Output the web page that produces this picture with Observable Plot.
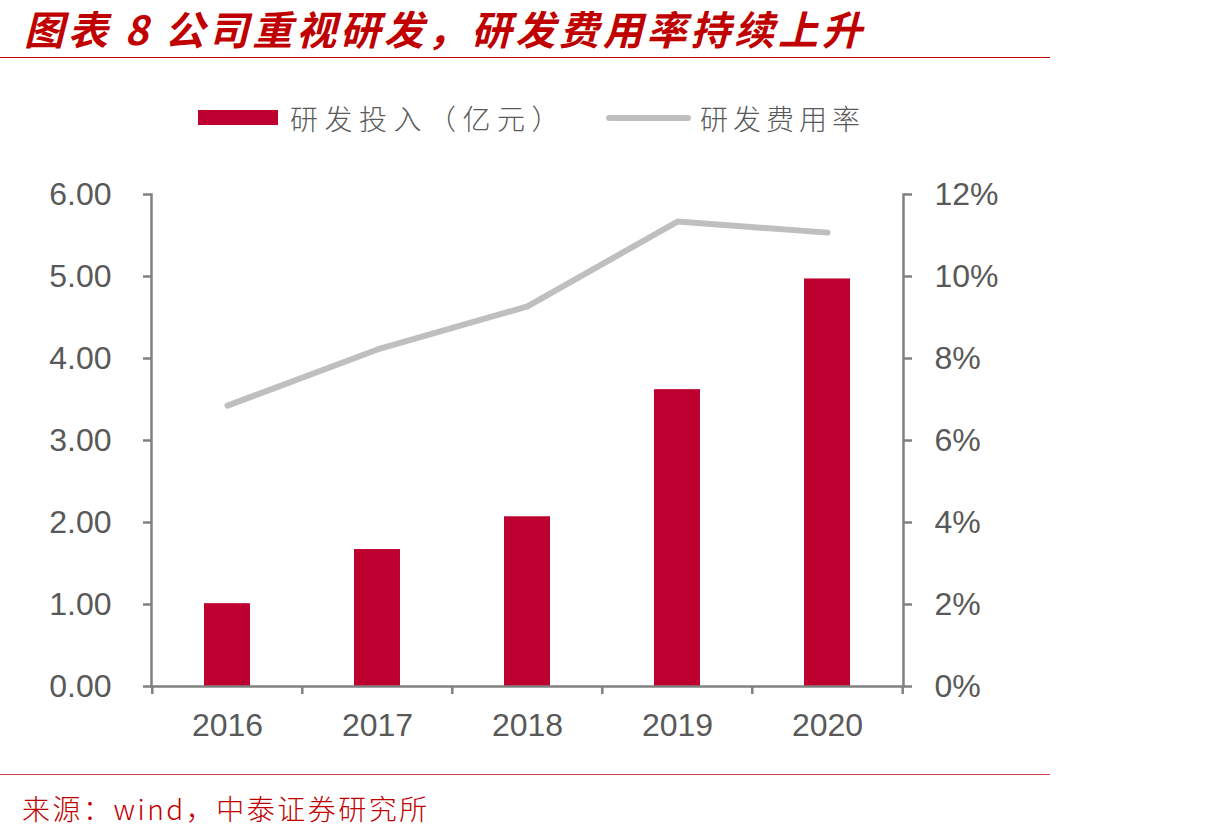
<!DOCTYPE html>
<html>
<head>
<meta charset="utf-8">
<script src="https://cdn.jsdelivr.net/npm/d3@7"></script>
<script src="https://cdn.jsdelivr.net/npm/@observablehq/plot@0.6"></script>
<style>
  html, body { margin: 0; padding: 0; background: #fff; }
  #wrap { position: relative; width: 1212px; height: 839px; overflow: hidden; }
  #title { position: absolute; left: 24px; top: 2px; padding-right: 20px; font-family: "Noto Sans CJK SC", sans-serif; font-weight: 700; font-style: italic; font-size: 40px; line-height: 52px; color: #c00000; letter-spacing: 3.8px; white-space: nowrap; }
  #topline { position: absolute; left: 0; top: 57px; width: 1050px; height: 0; border-top: 1.5px solid #c00000; }
  .lg { position: absolute; font-family: "Noto Sans CJK SC", sans-serif; font-weight: 300; font-size: 28px; line-height: 40px; color: #595959; white-space: nowrap; }
  .sw-bar { position: absolute; left: 198px; top: 110px; width: 80px; height: 15px; background: #be0030; }
  .sw-line { position: absolute; left: 606px; top: 115px; width: 85px; height: 6px; border-radius: 3px; background: #bfbfbf; }
  #chart { position: absolute; left: 0; top: 170px; }
  #botline { position: absolute; left: 0; top: 774px; width: 1050px; height: 0; border-top: 1.5px solid #d04545; }
  #source { position: absolute; left: 22px; top: 788px; font-family: "Noto Sans CJK SC", sans-serif; font-weight: 300; font-size: 28px; color: #c00000; white-space: nowrap; letter-spacing: 2.5px; }
</style>
</head>
<body>
<div id="wrap">
  <div id="title">图表 8 公司重视研发，研发费用率持续上升</div>
  <div id="topline"></div>
  <div class="sw-bar"></div>
  <div class="lg" style="left:290px; top:98px; letter-spacing:6.5px;">研发投入（亿元）</div>
  <div class="sw-line"></div>
  <div class="lg" style="left:700px; top:98px; letter-spacing:5px;">研发费用率</div>
  <div id="chart"></div>
  <div id="botline"></div>
  <div id="source">来源：wind，中泰证券研究所</div>
</div>
<script>
// ---- data ----
const years = ["2016", "2017", "2018", "2019", "2020"];
const rdSpend = [1.01, 1.67, 2.07, 3.62, 4.97];      // 亿元
const rdRate = [6.85, 8.22, 9.27, 11.34, 11.07];     // %
const leftTicks = [0, 1, 2, 3, 4, 5, 6];
const rightTicks = [0, 2, 4, 6, 8, 10, 12];           // %

const rows = years.map((y, i) => ({year: y, spend: rdSpend[i], rate: rdRate[i]}));

// right axis maps 0–12% onto left 0–6
const ratio = d3.max(rightTicks) / d3.max(leftTicks);

const W = 1050, H = 600, ML = 151, MR = 147, MT = 24, MB = 84;
const halfStep = (W - ML - MR) / years.length / 2;
const axisColor = "#808080";
const tickFont = "Liberation Sans, Arial, sans-serif";

const chart = Plot.plot({
  width: W, height: H,
  marginLeft: ML, marginRight: MR, marginTop: MT, marginBottom: MB,
  style: {fontFamily: tickFont, fontSize: "32px", color: "#595959", background: "transparent"},
  x: {domain: years, padding: 0, label: null},
  y: {domain: [0, d3.max(leftTicks)], label: null},
  marks: [
    Plot.barY(rows, {x: "year", y: "spend", fill: "#be0030", insetLeft: 52, insetRight: 52}),
    Plot.line(rows, {x: "year", y: d => d.rate / ratio, stroke: "#bfbfbf", strokeWidth: 6, strokeLinecap: "round", strokeLinejoin: "round"}),
    Plot.ruleY([0], {stroke: axisColor, strokeWidth: 2.5}),
    Plot.frame({anchor: "left", stroke: axisColor, strokeWidth: 2.5}),
    Plot.frame({anchor: "right", stroke: axisColor, strokeWidth: 2.5}),
    Plot.axisY(leftTicks, {anchor: "left", tickSize: 8, tickPadding: 32, tickFormat: d3.format(".2f"), stroke: axisColor, strokeWidth: 2.5, fill: "#595959", label: null}),
    Plot.axisY(leftTicks, {anchor: "right", tickSize: 8, tickPadding: 23, tickFormat: d => (d * ratio) + "%", stroke: axisColor, strokeWidth: 2.5, fill: "#595959", label: null}),
    Plot.axisX({anchor: "bottom", tickSize: 0, tickPadding: 27, fill: "#595959", label: null}),
    Plot.axisX(years, {anchor: "bottom", tickSize: 8, tickFormat: null, dx: -halfStep, stroke: axisColor, strokeWidth: 2.5, label: null}),
    Plot.axisX(years.slice(-1), {anchor: "bottom", tickSize: 8, tickFormat: null, dx: halfStep, stroke: axisColor, strokeWidth: 2.5, label: null})
  ]
});
document.getElementById("chart").appendChild(chart);
</script>
</body>
</html>
